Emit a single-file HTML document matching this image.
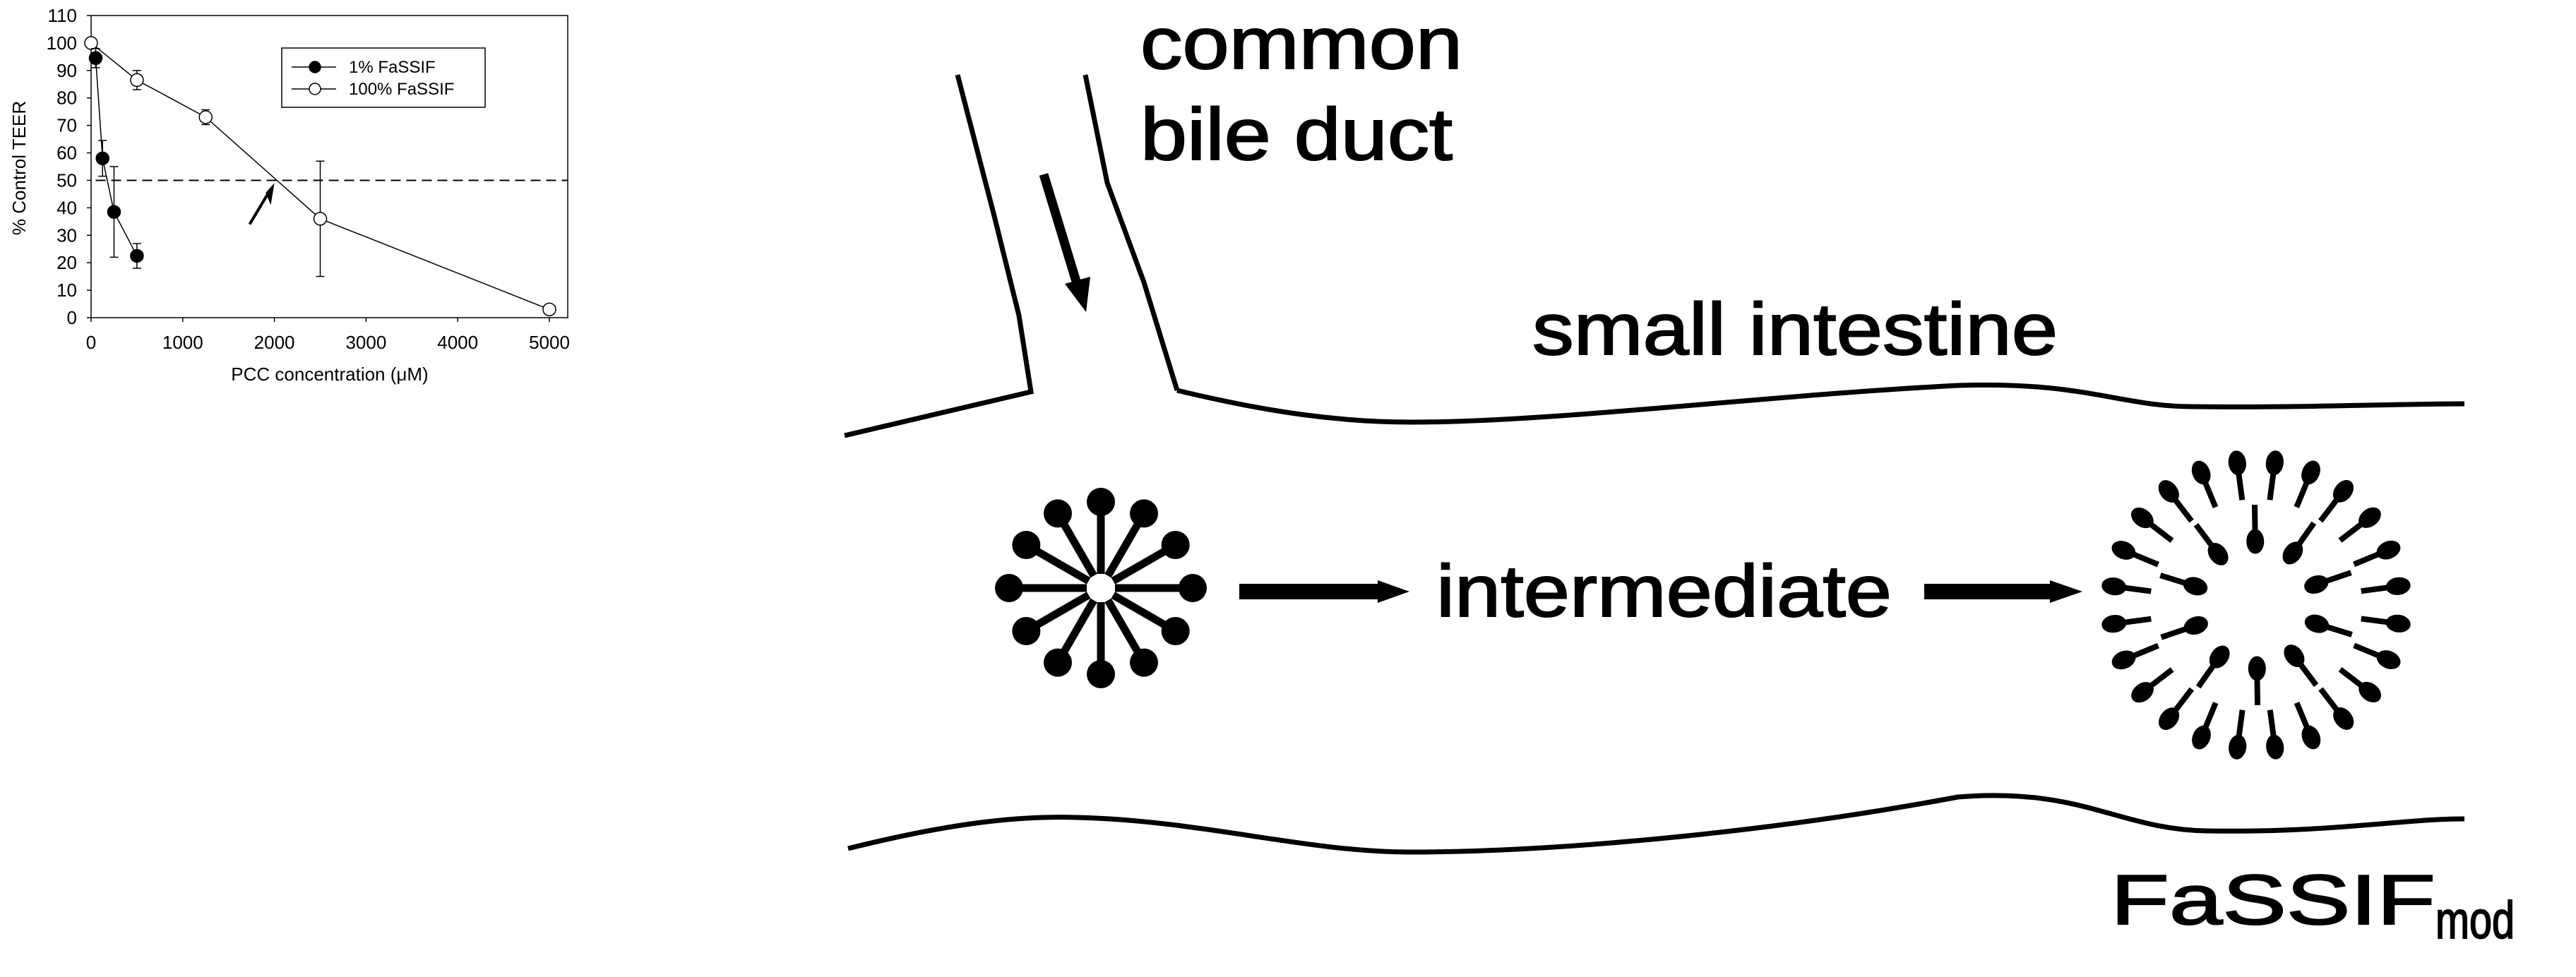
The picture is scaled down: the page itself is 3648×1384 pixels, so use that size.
<!DOCTYPE html>
<html><head><meta charset="utf-8"><style>
html,body{margin:0;padding:0;background:#fff;}
svg{display:block;font-family:"Liberation Sans",Arial,sans-serif;}
</style></head><body>
<svg id="root" width="3648" height="1384" viewBox="0 0 3648 1384" xmlns="http://www.w3.org/2000/svg">
<rect width="3648" height="1384" fill="#fff"/>
<g id="chart"></g>
<g id="diagram" fill="none" stroke="#000">
  <polyline stroke-width="7" points="1356,106 1408,306 1443,447 1460,555 1196,617"/>
  <polyline stroke-width="7" points="1537,106 1568,259 1620,400 1667,553"/>
  <path stroke-width="7" d="M1667,553 C1800,585 1900,598 2000,598 C2200,598 2500,560 2773,546 C2950,540 3000,575 3102,576 C3250,578 3400,572 3490,572"/>
  <path stroke-width="7" d="M1201,1202 C1330,1170 1430,1155 1525,1158 C1700,1162 1850,1207 1996,1207 C2200,1207 2500,1180 2773,1129 C2950,1115 3000,1175 3125,1177 C3300,1180 3400,1160 3490,1160"/>
  <line stroke-width="13" x1="1478" y1="247" x2="1526" y2="405"/>
  <polygon fill="#000" stroke="none" points="1508,402 1544,392 1538,442"/>
  <line stroke-width="22" x1="1755" y1="838" x2="1956" y2="838"/>
  <polygon fill="#000" stroke="none" points="1951,822 1996,838 1951,854"/>
  <line stroke-width="22" x1="2725" y1="838" x2="2908" y2="838"/>
  <polygon fill="#000" stroke="none" points="2903,822 2949,838 2903,854"/>
  <g id="micelle"></g>
  <g id="vesicle"></g>
</g>
<g font-size="104" fill="#000" stroke="#000" stroke-width="2">
  <text x="1615" y="97" textLength="456" lengthAdjust="spacingAndGlyphs">common</text>
  <text x="1615" y="226" textLength="442" lengthAdjust="spacingAndGlyphs">bile duct</text>
  <text x="2170" y="502" textLength="744" lengthAdjust="spacingAndGlyphs">small intestine</text>
  <text x="2034" y="873" textLength="645" lengthAdjust="spacingAndGlyphs">intermediate</text>
  <text x="2989" y="1309" font-size="100"><tspan textLength="460" lengthAdjust="spacingAndGlyphs">FaSSIF</tspan><tspan font-size="74" dy="20" textLength="112" lengthAdjust="spacingAndGlyphs">mod</tspan></text>
</g>
</svg>
<script>
const NS="http://www.w3.org/2000/svg";
const xVals1=[50,125,250,500];
const yVals1=[94.5,58,38.5,22.5];
const err1=[3.5,6.5,16.5,4.5];
const xVals2=[0,500,1250,2500,5000];
const yVals2=[100,86.5,73,36,3];
const err2=[0,3.5,2.7,21,0];
const xTicks=[0,1000,2000,3000,4000,5000];
const yTicks=[0,10,20,30,40,50,60,70,80,90,100,110];
const seriesNames=["1% FaSSIF","100% FaSSIF"];
const refLevel=50;

const L=129,R=804,T=22,B=450;
const xs=v=>L+(v/5000)*(778-L);
const ys=v=>B-(v/110)*(B-T);
const chart=document.getElementById('chart');
function mk(tag,attrs,parent){const e=document.createElementNS(NS,tag);for(const k in attrs)e.setAttribute(k,attrs[k]);(parent||chart).appendChild(e);return e;}

let e;
e=mk('rect',{x:L,y:T,width:R-L,height:B-T,fill:'none',stroke:'#000','stroke-width':1.5});


yTicks.forEach(v=>{
  let t=mk('line',{x1:L-6,x2:L,y1:ys(v),y2:ys(v),stroke:'#000','stroke-width':1.5});
  
  
  let l=mk('text',{x:109,y:ys(v)+9,'text-anchor':'end','font-size':26});
  l.textContent=v;
  
  
});
xTicks.forEach(v=>{
  let t=mk('line',{x1:xs(v),x2:xs(v),y1:B,y2:B+6,stroke:'#000','stroke-width':1.5});
  
  
  let l=mk('text',{x:xs(v),y:494,'text-anchor':'middle','font-size':26});
  l.textContent=v;
  
  
});
e=mk('text',{x:467,y:539,'text-anchor':'middle','font-size':26});
e.textContent='PCC concentration (\u03BCM)';


e=mk('text',{x:0,y:0,'text-anchor':'middle','font-size':26,transform:'translate(36,238) rotate(-90)'});
e.textContent='% Control TEER';



e=mk('line',{x1:xs(50),x2:R,y1:ys(refLevel),y2:ys(refLevel),stroke:'#000','stroke-width':2,'stroke-dasharray':'14,8'});


e=mk('line',{x1:xs(1730),y1:ys(34),x2:xs(1945),y2:ys(46),stroke:'#000','stroke-width':4});


e=mk('polygon',{points:`${xs(2000)},${ys(49)} ${xs(1905)},${ys(45.5)} ${xs(1960)},${ys(41)}`,fill:'#000'});



function series(xv,yv,er,fill,name){
  let pl=mk('polyline',{points:xv.map((x,i)=>xs(x)+','+ys(yv[i])).join(' '),fill:'none',stroke:'#000','stroke-width':1.5});
  
  
  xv.forEach((x,i)=>{
    if(er[i]>0){
      let g=mk('path',{d:`M${xs(x)},${ys(yv[i]-er[i])}V${ys(yv[i]+er[i])}M${xs(x)-6},${ys(yv[i]-er[i])}h12M${xs(x)-6},${ys(yv[i]+er[i])}h12`,stroke:'#000','stroke-width':1.5,fill:'none'});
      
      
    }
    let c=mk('circle',{cx:xs(x),cy:ys(yv[i]),r:9,fill:fill,stroke:'#000','stroke-width':1.5});
    
    
  });
}
series(xVals2,yVals2,err2,'#fff','series-100pct');
series(xVals1,yVals1,err1,'#000','series-1pct');

e=mk('rect',{x:399,y:68,width:288,height:84,fill:'#fff',stroke:'#000','stroke-width':1.5});


seriesNames.forEach((n,i)=>{
  const y=i?126:95;
  let l=mk('line',{x1:413,x2:476,y1:y,y2:y,stroke:'#000','stroke-width':1.5});
  
  
  let c=mk('circle',{cx:446,cy:y,r:8,fill:i?'#fff':'#000',stroke:'#000','stroke-width':1.5});
  
  
  let t=mk('text',{x:494,y:y+8,'font-size':24});
  t.textContent=n;
  
  
});

// micelle
const mic=document.getElementById('micelle');
const mcx=1559,mcy=833;
for(let k=0;k<12;k++){
  const a=k*Math.PI/6, c=Math.cos(a), s=Math.sin(a);
  const rr=(k%6===0)?130:122;
  let l=mk('line',{x1:mcx+20*c,y1:mcy+20*s,x2:mcx+rr*c,y2:mcy+rr*s,stroke:'#000','stroke-width':11},mic);
  
  
  let h=mk('circle',{cx:mcx+rr*c,cy:mcy+rr*s,r:20,fill:'#000',stroke:'none'},mic);
  
  
}
// vesicle
const ves=document.getElementById('vesicle');
const vcx=3195,vcy=857;
function lipid(a,rh,rt){
  const c=Math.cos(a),s=Math.sin(a);
  let l=mk('line',{x1:vcx+rt*c,y1:vcy+rt*s,x2:vcx+rh*c,y2:vcy+rh*s,stroke:'#000','stroke-width':8},ves);
  
  
  let h=mk('ellipse',{cx:vcx+rh*c,cy:vcy+rh*s,rx:17,ry:12,fill:'#000',transform:`rotate(${a*180/Math.PI} ${vcx+rh*c} ${vcy+rh*s})`},ves);
  
  
}
for(let k=0;k<24;k++){lipid(k*Math.PI/12+0.13,203,150);}
for(let k=0;k<10;k++){lipid(k*Math.PI/5+0.3,90,142);}
</script>
</body></html>
